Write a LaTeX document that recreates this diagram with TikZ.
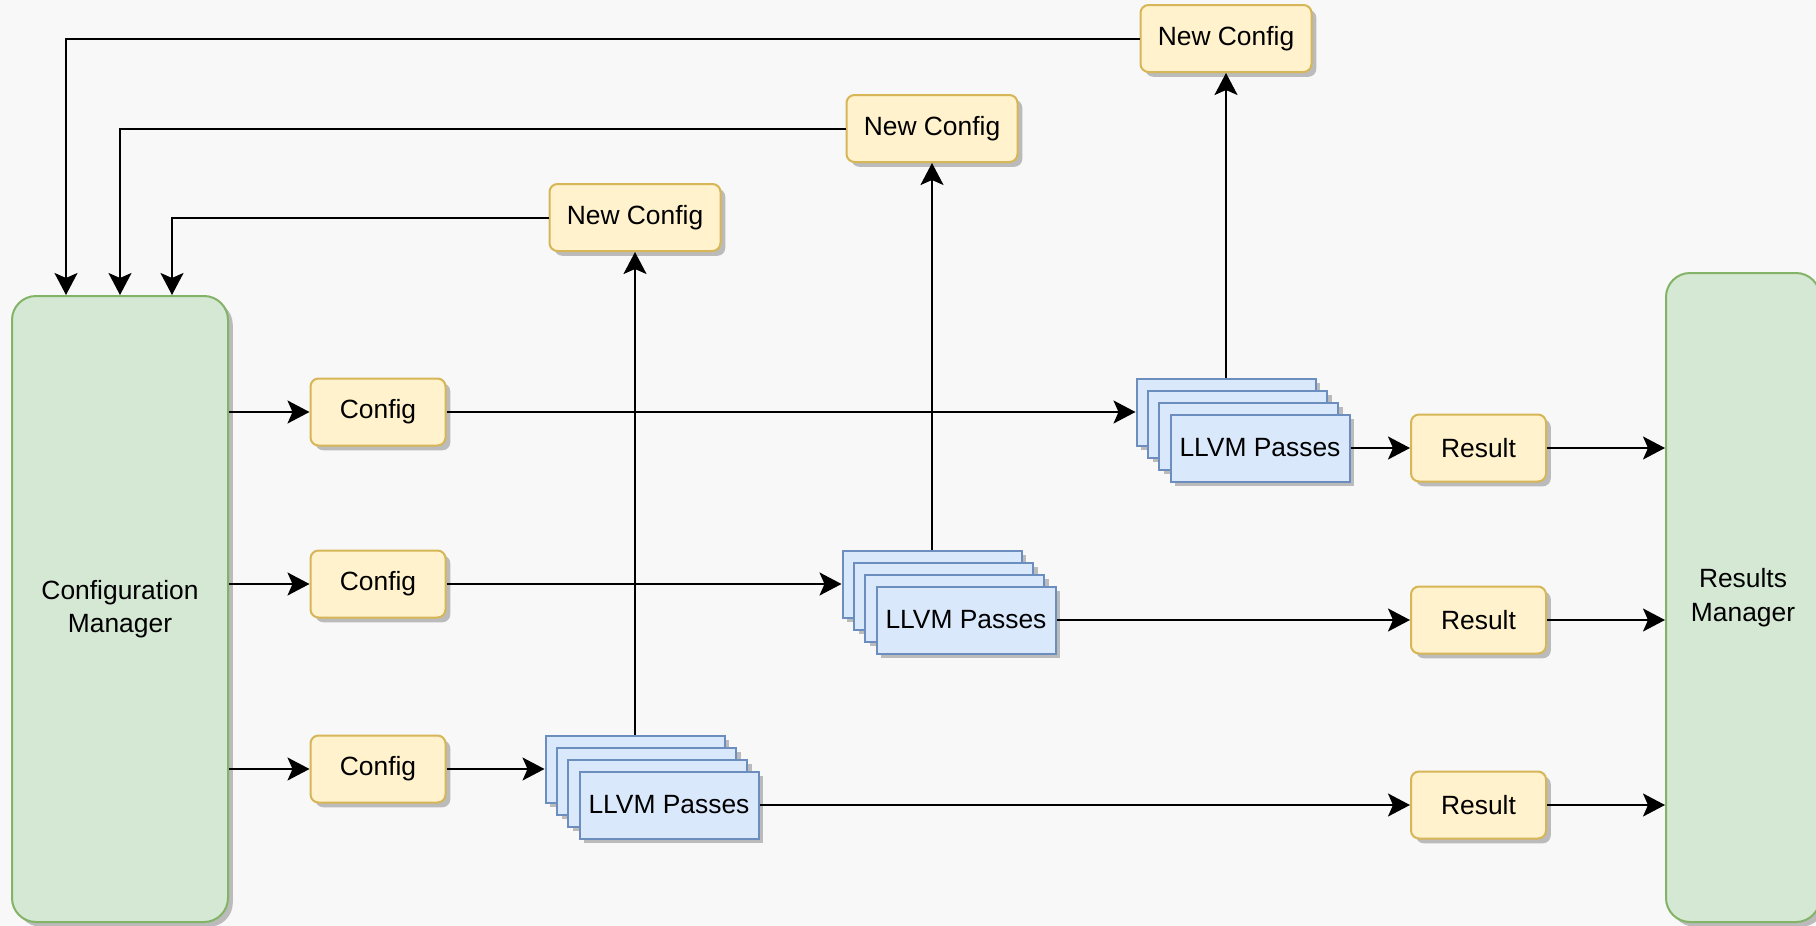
\documentclass[tikz,border=0pt]{standalone}
\usepackage{fontspec}
\setmainfont{Liberation Sans}
\usetikzlibrary{arrows.meta,shadows}
\definecolor{keltainen}{HTML}{FFF2CC}
\definecolor{keltareuna}{HTML}{D6B656}
\definecolor{sininen}{HTML}{DAE8FC}
\definecolor{sinireuna}{HTML}{6C8EBF}
\definecolor{vihrea}{HTML}{D5E8D4}
\definecolor{vihreareuna}{HTML}{82B366}
\definecolor{tausta}{HTML}{F8F8F8}
\definecolor{varjo}{HTML}{BBBBBB}
\begin{document}
\begin{tikzpicture}[x=0.5pt,y=-0.5pt,
laatikko/.style={draw,line width=1pt,rounded corners=4pt,minimum width=67.5pt,minimum height=33.5pt,inner sep=0pt,
  font=\fontsize{13.2}{16.8}\selectfont,
  drop shadow={shadow xshift=2.4pt,shadow yshift=-2.4pt,fill=varjo,opacity=1}},
konfig/.style={laatikko,fill=keltainen,draw=keltareuna},
passi/.style={laatikko,sharp corners,fill=sininen,draw=sinireuna,minimum width=89.5pt},
hallinta/.style={laatikko,rounded corners=12pt,fill=vihrea,draw=vihreareuna,align=center},
nuoli/.style={line width=1pt,-{Stealth[length=11pt,width=11.5pt,inset=2.5pt]}}]
\newcommand\passipino[3]{
\node[passi] (#3) at (#1,#2) {};
\node[passi] at (#1+11.3,#2+12) {};
\node[passi] at (#1+22.6,#2+24) {};
\node[passi] (#3e) at (#1+34,#2+36) {LLVM Passes};
}
\fill[tausta] (0,0) rectangle (1816,926);
\useasboundingbox (0,0) rectangle (1816,926);
\node[hallinta,minimum width=108pt,minimum height=313pt] (cm) at (120,609) {Configuration\\Manager};
\node[hallinta,minimum width=77pt,minimum height=324.5pt] (rm) at (1743,597.5) {Results\\Manager};
\node[konfig] (c1) at (378,412) {Config};
\node[konfig] (c2) at (378,584) {Config};
\node[konfig] (c3) at (378,769) {Config};
\node[konfig,minimum width=85.5pt] (nc1) at (1226,38.5) {New Config};
\node[konfig,minimum width=85.5pt] (nc2) at (932,128.5) {New Config};
\node[konfig,minimum width=85.5pt] (nc3) at (635,217.5) {New Config};
\passipino{1226}{412}{s1}
\passipino{932}{584}{s2}
\passipino{635}{769}{s3}
\node[konfig] (r1) at (1478.5,448) {Result};
\node[konfig] (r2) at (1478.5,620) {Result};
\node[konfig] (r3) at (1478.5,805) {Result};
% feedback
\draw[nuoli] (nc1.west) -| ([xshift=-27pt]cm.north);
\draw[nuoli] (nc2.west) -| (cm.north);
\draw[nuoli] (nc3.west) -| ([xshift=26pt]cm.north);
\draw[nuoli] (cm.east |- c1) -- (c1);
\draw[nuoli] (cm.east |- c2) -- (c2);
\draw[nuoli] (cm.east |- c3) -- (c3);
\draw[nuoli] (c1) -- (s1);
\draw[nuoli] (c2) -- (s2);
\draw[nuoli] (c3) -- (s3);
\draw[nuoli] (s1.north) -- (nc1.south);
\draw[nuoli] (s2.north) -- (nc2.south);
\draw[nuoli] (s3.north) -- (nc3.south);
\draw[nuoli] (s1e) -- (r1);
\draw[nuoli] (s2e) -- (r2);
\draw[nuoli] (s3e) -- (r3);
\draw[nuoli] (r1) -- (rm.west |- r1);
\draw[nuoli] (r2) -- (rm.west |- r2);
\draw[nuoli] (r3) -- (rm.west |- r3);
\end{tikzpicture}
\end{document}
